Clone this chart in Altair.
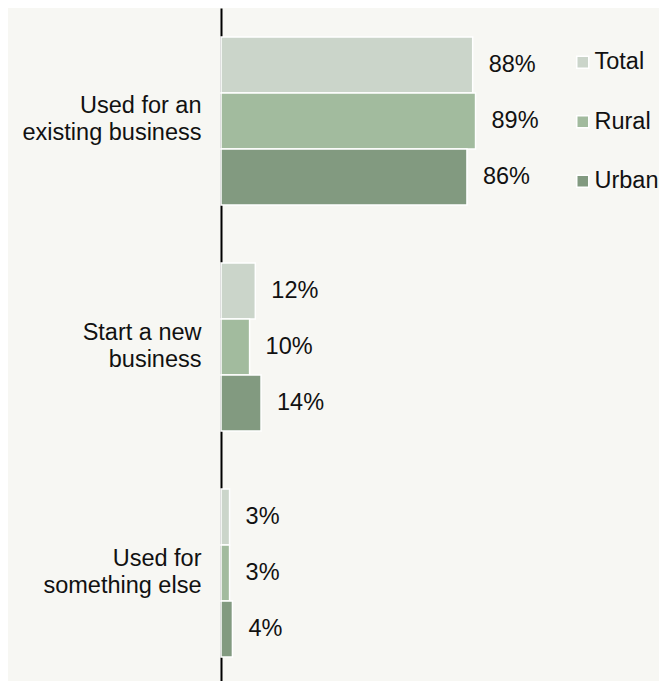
import altair as alt
import pandas as pd

categories = ["Used for an|existing business", "Start a new|business", "Used for|something else"]
series = ["Total", "Rural", "Urban"]
total = [88, 12, 3]
rural = [89, 10, 3]
urban = [86, 14, 4]
colors = ["#cbd5ca", "#a2bb9e", "#829a80"]

rows = []
for i, c in enumerate(categories):
    for s, vals in zip(series, [total, rural, urban]):
        rows.append({"category": c, "series": s, "value": vals[i], "label": f"{vals[i]}%"})
df = pd.DataFrame(rows)

FONT = "Liberation Sans"
FS = 23.5

base = alt.Chart(df).encode(
    y=alt.Y(
        "category:N",
        sort=categories,
        scale=alt.Scale(paddingInner=0.257, paddingOuter=0.128),
        axis=alt.Axis(
            title=None,
            labelExpr="split(datum.label, '|')",
            labelFontSize=FS,
            labelFont=FONT,
            labelColor="#111111",
            labelPadding=20,
            labelLineHeight=27,
            labelOffset=-14.5,
            ticks=False,
            domainColor="black",
            domainWidth=2,
            grid=False,
        ),
    ),
    yOffset=alt.YOffset("series:N", sort=series, scale=alt.Scale(paddingInner=0, paddingOuter=0)),
)

bars = base.mark_bar(stroke="white", strokeWidth=1.5).encode(
    x=alt.X("value:Q", scale=alt.Scale(domain=[0, 100]), axis=None),
    color=alt.Color(
        "series:N",
        sort=series,
        scale=alt.Scale(domain=series, range=colors),
        legend=alt.Legend(
            title=None,
            orient="none",
            legendX=350,
            legendY=42.5,
            symbolType="square",
            symbolSize=144,
            symbolStrokeColor="white",
            symbolStrokeWidth=1.5,
            symbolOpacity=1,
            labelFontSize=FS,
            labelFont=FONT,
            labelColor="#111111",
            labelOffset=0,
            rowPadding=34.5,
        ),
    ),
)

text = base.mark_text(align="left", dx=16, fontSize=FS, font=FONT, color="#111111").encode(
    x=alt.X("value:Q", scale=alt.Scale(domain=[0, 100]), axis=None),
    text="label:N",
)

chart = (
    alt.layer(bars, text)
    .properties(
        width=286,
        height=678,
        autosize=alt.AutoSizeParams(type="none"),
        padding={"left": 213, "top": 0, "right": 152, "bottom": 0},
        background="#f7f7f3",
    )
    .configure_view(stroke=None)
)

chart.save("out.html", embed_options={"renderer": "svg", "actions": False})
